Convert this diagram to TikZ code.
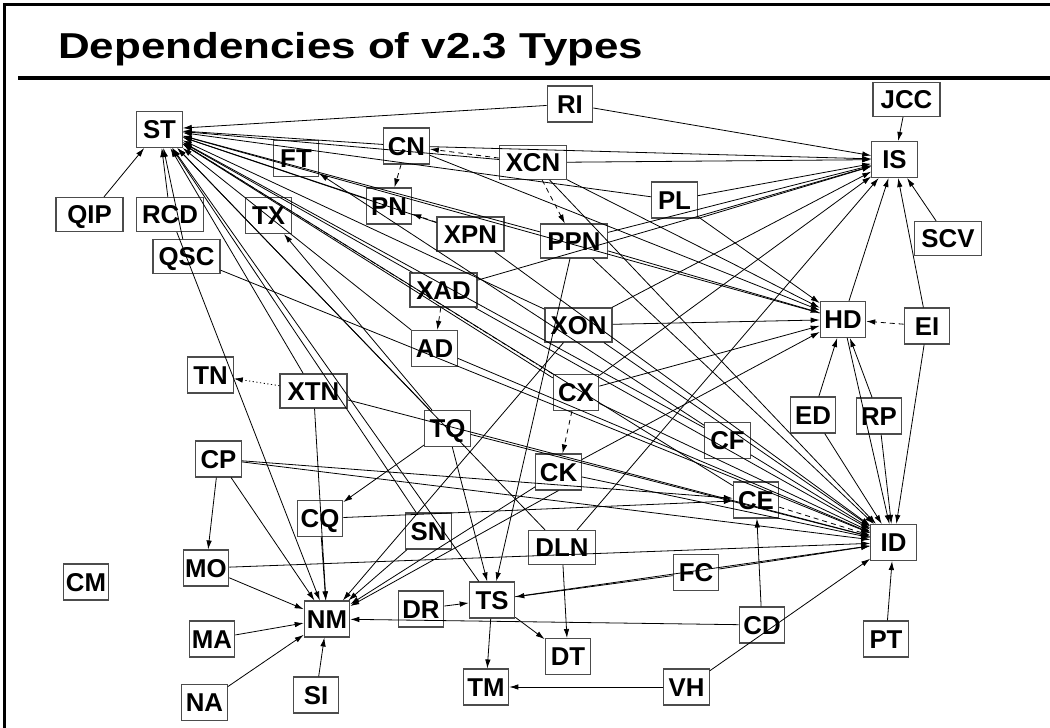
\documentclass[tikz,border=0pt]{standalone}
\usepackage{fontspec}
\setmainfont{Liberation Sans}
\usetikzlibrary{arrows.meta}
\newcommand{\lblfont}{\fontsize{25.8}{28}\selectfont\bfseries}
\tikzset{
  box2/.style={draw=black!70, line width=1.1pt, minimum width=45.5pt,
    minimum height=36pt, inner sep=0pt, font=\lblfont,
    text height=18.5pt, text depth=0pt},
  box3/.style={box2, minimum width=67pt, minimum height=34pt},
  dep/.style={-{Latex[length=9pt,width=5.5pt]}, line width=0.8pt, black},
  likedep/.style={dep, dash pattern=on 5pt off 4pt},
  dotdep/.style={dep, dash pattern=on 1.2pt off 2.5pt},
  dashdotdep/.style={dep, dash pattern=on 5pt off 2.5pt on 1pt off 2.5pt},
  frame/.style={line width=3pt, black},
}
\begin{document}
\begin{tikzpicture}[x=1pt,y=-1pt]
\useasboundingbox (0,0) rectangle (1050,728);
% page frame and heading
\draw[frame] (4,728) -- (4,4) -- (1050,4);
\draw[line width=4pt] (18,78) -- (1050,78);
\node[anchor=base west, inner sep=0pt] (title) at (58,58)
  {\scalebox{1.22}[1]{\fontsize{36}{40}\selectfont\bfseries Dependencies of v2.3 Types}};

% data types
\node[box2] (ST)  at (159.5,129.5) {ST};
\node[box3] (QIP) at (89.5,214.5) {QIP};
\node[box3] (RCD) at (170,214.5) {RCD};
\node[box3] (QSC) at (186.5,256.5) {QSC};
\node[box2] (TX)  at (268.5,215.5) {TX};
\node[box2] (FT)  at (296,158.5) {FT};
\node[box2] (RI)  at (570,104) {RI};
\node[box2] (CN)  at (406.5,146) {CN};
\node[box3] (XCN) at (533,162.5) {XCN};
\node[box2] (PN)  at (389,206) {PN};
\node[box3] (XPN) at (470.5,234) {XPN};
\node[box3] (PPN) at (574,241) {PPN};
\node[box2] (PL)  at (674.5,200) {PL};
\node[box3] (XAD) at (443.5,290) {XAD};
\node[box3] (XON) at (578.5,325) {XON};
\node[box3] (JCC) at (906.5,99.5) {JCC};
\node[box2] (IS)  at (894.5,159.5) {IS};
\node[box3] (SCV) at (948,238.5) {SCV};
\node[box2] (HD)  at (843,319.5) {HD};
\node[box2] (EI)  at (927,326) {EI};
\node[box2] (ED)  at (813,415) {ED};
\node[box2] (RP)  at (879,416) {RP};
\node[box2] (CF)  at (727.5,440.5) {CF};
\node[box2] (CE)  at (756,500) {CE};
\node[box2] (ID)  at (893.5,542.5) {ID};
\node[box2] (AD)  at (434.5,348.5) {AD};
\node[box2] (TN)  at (210.5,375) {TN};
\node[box3] (XTN) at (313.5,391) {XTN};
\node[box2] (TQ)  at (447.5,428.5) {TQ};
\node[box2] (CP)  at (218.5,459) {CP};
\node[box2] (CQ)  at (320,518.5) {CQ};
\node[box2] (SN)  at (428.5,531) {SN};
\node[box2] (CX)  at (576,392.5) {CX};
\node[box2] (CK)  at (558.5,472) {CK};
\node[box3] (DLN) at (562,547.5) {DLN};
\node[box2] (FC)  at (696,572.5) {FC};
\node[box2] (TS)  at (492,600) {TS};
\node[box2] (DT)  at (568,656.5) {DT};
\node[box2] (CD)  at (762,625) {CD};
\node[box2] (PT)  at (886,639) {PT};
\node[box2] (TM)  at (486,687) {TM};
\node[box2] (VH)  at (686.5,687) {VH};
\node[box2] (CM)  at (86,582) {CM};
\node[box2] (MO)  at (206,568) {MO};
\node[box2] (NM)  at (327,619) {NM};
\node[box2] (DR)  at (421,609) {DR};
\node[box2] (MA)  at (212,639) {MA};
\node[box2] (NA)  at (204.5,702.5) {NA};
\node[box2] (SI)  at (316,695) {SI};

% component dependencies
\foreach \a/\b in {
  AD/ST, AD/ID, CE/ST, CF/ID, CF/FT, CF/ST,
  CK/NM, CK/ID, CK/HD, CN/ST, CN/IS, CN/HD,
  CP/MO, CP/ID, CP/NM, CP/CE, CQ/NM, CQ/CE,
  CX/ST, CX/ID, CX/HD, CX/IS, DLN/ST, DLN/IS, DLN/DT,
  DR/TS, ED/HD, ED/ID, EI/IS, EI/ID, FC/TS, FC/ID,
  HD/IS, HD/ST, HD/ID, JCC/IS, MA/NM, NA/NM, MO/NM, MO/ID,
  PL/IS, PL/HD, PL/ST, PN/ST,
  PPN/ST, PPN/IS, PPN/HD, PPN/ID, PPN/TS,
  QIP/ST, QSC/ST, QSC/ID, RCD/ST, RCD/NM, RI/IS, RI/ST,
  RP/HD, RP/ID, SCV/IS, SI/NM, SN/NM, SN/ST,
  TQ/CQ, TQ/TS, TQ/TX, TQ/ID, TQ/ST,
  TS/TM, TS/DT, TS/ID, TS/ST, VH/ID, VH/TM, CD/NM, CD/CE,
  XAD/ST, XAD/ID, XAD/IS, XCN/ST, XCN/IS, XCN/HD, XCN/ID,
  XON/ST, XON/IS, XON/NM, XON/ID, XON/HD,
  XPN/ST, XPN/ID, XTN/ID, XTN/NM, XTN/ST, PT/ID}
  \draw[dep] (\a) -- (\b);
% repeated components of the same type
\draw[dep] (CK.south) -- (NM);
\draw[dep] (PL.south east) -- (IS);

% derived types
\draw[likedep] (XCN) -- (CN);
\draw[likedep] (CN) -- (PN);
\draw[likedep] (XPN) -- (PN);
\draw[likedep] (XAD) -- (AD);
\draw[likedep] (CX) -- (CK);
\draw[likedep] (EI) -- (HD);
\draw[likedep] (XCN) -- (PPN);
\draw[likedep] (CE) -- (ID);
\draw[dotdep] (XTN) -- (TN);
\draw[dashdotdep] (CX.north west) -- (ST);
\end{tikzpicture}
\end{document}
